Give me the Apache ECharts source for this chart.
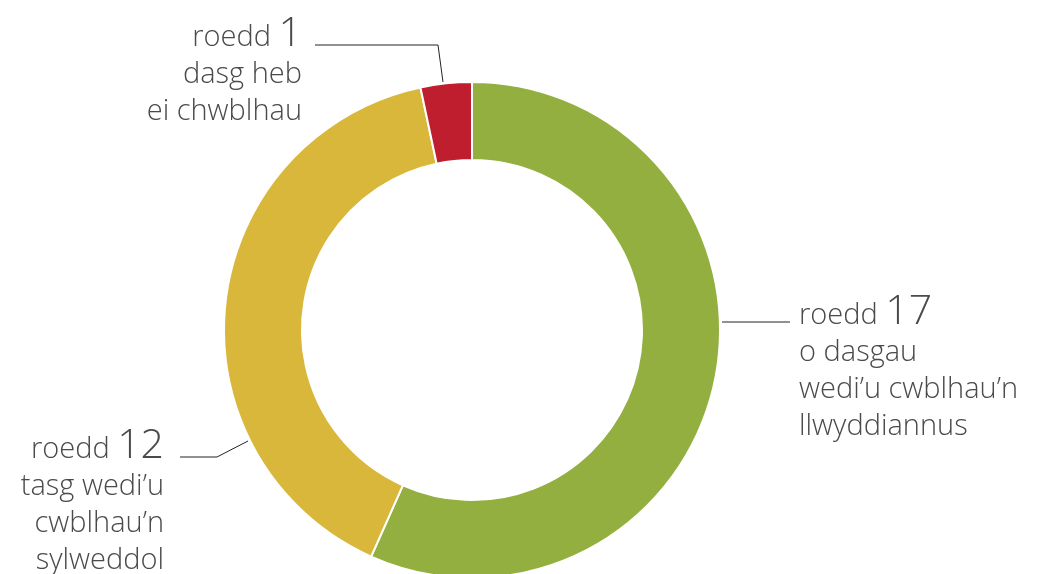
<!DOCTYPE html>
<html>
<head>
    <meta charset="utf-8">
    <title>Tasgau</title>
    <style>
        * { margin: 0; padding: 0; }
        #main { width: 1040px; height: 574px; }
    </style>
    <script src="https://cdn.jsdelivr.net/npm/echarts@6/dist/echarts.min.js"></script>
</head>
<body>
    <div id="main"></div>
    <script type="text/javascript">
        // data
        const counts = [17, 12, 1];
        const labelLines = [
            ['o dasgau', 'wedi\u2019u cwblhau\u2019n', 'llwyddiannus'],
            ['tasg wedi\u2019u', 'cwblhau\u2019n', 'sylweddol'],
            ['dasg heb', 'ei chwblhau']
        ];
        const colors = ['#93AF3F', '#D9B73B', '#BE1E2D'];

        // where each label sits and how its leader line runs
        const labelPos = [
            { x: 799, y: 297, align: 'left', line: [[722, 322], [790, 322]] },
            { x: 164, y: 431, align: 'right', line: [[248, 441], [217, 457], [180, 457]] },
            { x: 302, y: 19, align: 'right', line: [[443, 82], [438, 45], [315, 45]] }
        ];

        const chart = echarts.init(document.getElementById('main'));

        const seriesData = counts.map((v, i) => ({
            value: v,
            itemStyle: { color: colors[i] },
            label: {
                formatter: '{a|roedd }{n|' + v + '}\n' + labelLines[i].map(t => '{a|' + t + '}').join('\n')
            }
        }));

        chart.setOption({
            animation: false,
            series: [{
                type: 'pie',
                center: [472, 330],
                radius: [170, 248],
                startAngle: 90,
                clockwise: true,
                avoidLabelOverlap: false,
                itemStyle: { borderColor: '#fff', borderWidth: 2 },
                label: {
                    show: true,
                    color: '#4a4a4a',
                    fontFamily: 'Open Sans',
                    rich: {
                        a: { fontSize: 29, fontWeight: 300, lineHeight: 37, color: '#4a4a4a', fontFamily: 'Open Sans' },
                        n: { fontSize: 41, fontWeight: 300, lineHeight: 37, color: '#4a4a4a', fontFamily: 'Open Sans', padding: [0, 0, 7, 0] }
                    }
                },
                labelLine: {
                    show: true,
                    lineStyle: { color: '#222', width: 1 }
                },
                labelLayout: function (params) {
                    const p = labelPos[params.dataIndex];
                    return {
                        x: p.x,
                        y: p.y,
                        align: p.align,
                        verticalAlign: 'top',
                        labelLinePoints: p.line
                    };
                },
                data: seriesData
            }]
        });
    </script>
</body>
</html>
